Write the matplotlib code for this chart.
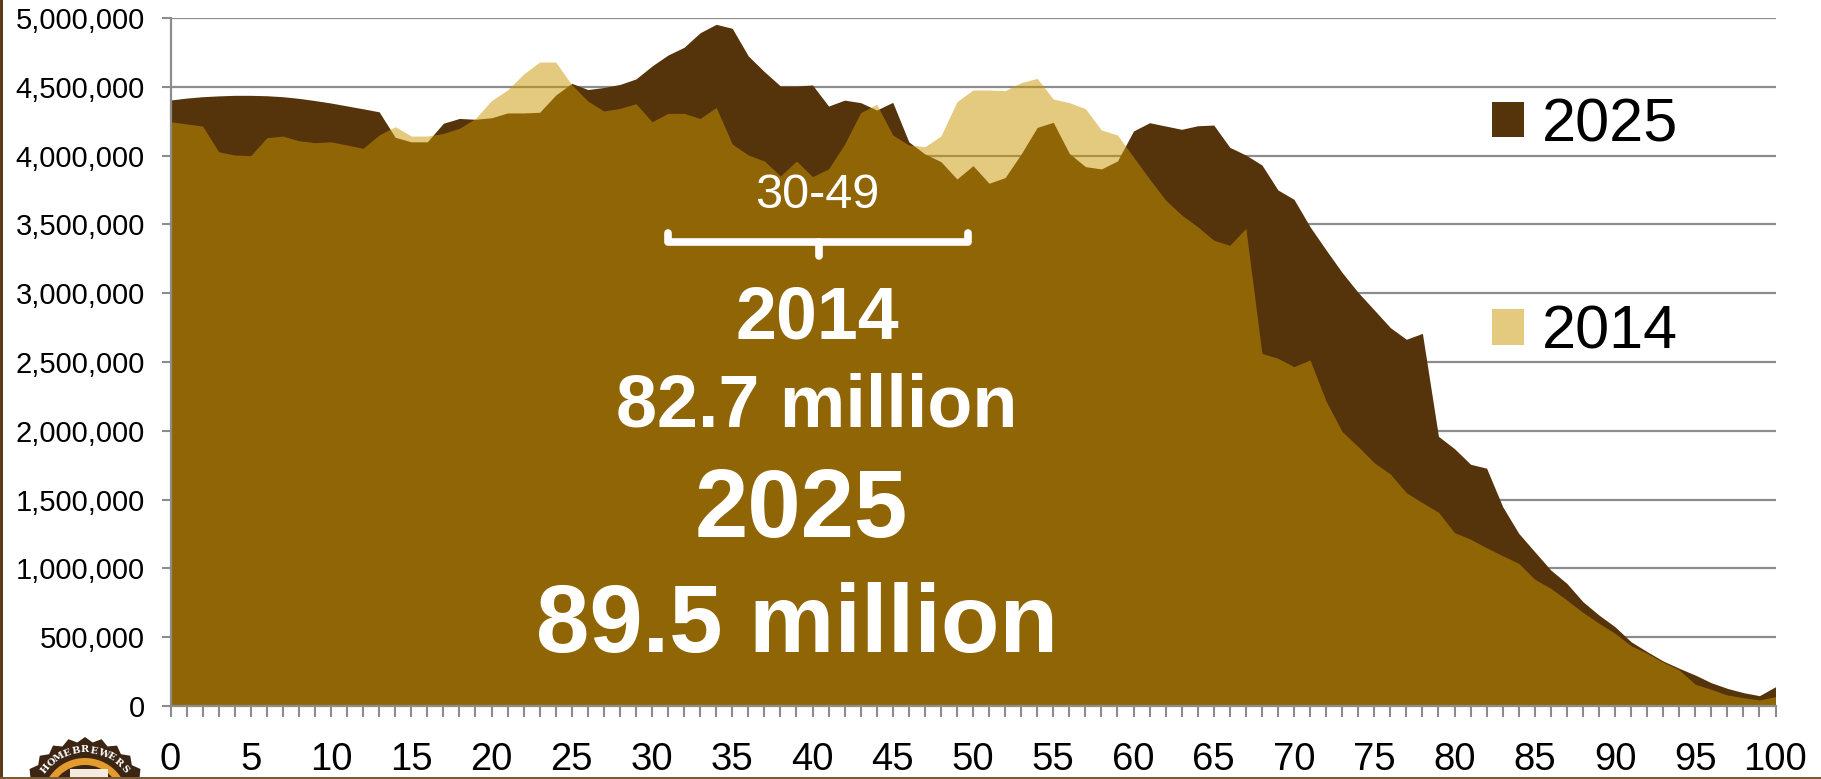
import numpy as np
import matplotlib
matplotlib.use("Agg")
import matplotlib.pyplot as plt
from matplotlib.ticker import FuncFormatter
from matplotlib.patches import Polygon, Circle, Rectangle

plt.rcParams['font.family'] = ['Liberation Sans', 'DejaVu Sans']

# population by single year of age, in millions
ages = np.arange(0, 101)
pop_2025 = [
    4.404, 4.418, 4.428, 4.434, 4.438, 4.438, 4.435, 4.428, 4.416, 4.400,
    4.382, 4.361, 4.340, 4.318, 4.133, 4.100, 4.100, 4.235, 4.270, 4.264,
    4.275, 4.310, 4.310, 4.315, 4.440, 4.525, 4.480, 4.495, 4.517, 4.557,
    4.651, 4.731, 4.787, 4.893, 4.954, 4.925, 4.724, 4.610, 4.506, 4.506,
    4.513, 4.360, 4.403, 4.385, 4.331, 4.387, 4.100, 4.012, 3.956, 3.830,
    3.927, 3.799, 3.840, 4.012, 4.205, 4.242, 4.016, 3.920, 3.903, 3.961,
    4.179, 4.239, 4.215, 4.191, 4.217, 4.222, 4.060, 4.004, 3.932, 3.750,
    3.682, 3.483, 3.314, 3.150, 3.005, 2.878, 2.750, 2.665, 2.708, 1.960,
    1.870, 1.757, 1.728, 1.449, 1.255, 1.121, 0.988, 0.891, 0.758, 0.661,
    0.576, 0.467, 0.395, 0.327, 0.274, 0.225, 0.169, 0.128, 0.097, 0.075,
    0.140,
]
pop_2014 = [
    4.246, 4.230, 4.215, 4.028, 4.004, 4.000, 4.130, 4.142, 4.108, 4.094,
    4.100, 4.077, 4.053, 4.150, 4.210, 4.142, 4.142, 4.161, 4.198, 4.270,
    4.400, 4.477, 4.593, 4.680, 4.680, 4.515, 4.397, 4.324, 4.343, 4.377,
    4.246, 4.307, 4.307, 4.270, 4.350, 4.084, 4.004, 3.961, 3.852, 3.961,
    3.847, 3.903, 4.084, 4.312, 4.373, 4.150, 4.077, 4.065, 4.142, 4.392,
    4.477, 4.477, 4.472, 4.530, 4.561, 4.411, 4.385, 4.341, 4.186, 4.150,
    3.990, 3.830, 3.677, 3.568, 3.483, 3.385, 3.348, 3.472, 2.563, 2.527,
    2.466, 2.515, 2.215, 1.994, 1.885, 1.768, 1.686, 1.550, 1.478, 1.408,
    1.260, 1.212, 1.150, 1.092, 1.037, 0.921, 0.855, 0.770, 0.681, 0.601,
    0.528, 0.438, 0.383, 0.318, 0.262, 0.158, 0.121, 0.080, 0.060, 0.044,
    0.068,
]
y_ticks = np.arange(0, 5_000_001, 500_000)
x_labels = np.arange(0, 101, 5)

DARK = '#55330B'
GOLD = '#CB9701'
GRID = '#8C8C8C'
W, H = 1821, 779

def fx(x):
    return x / W

def fy(y):
    return 1 - y / H

fig = plt.figure(figsize=(W / 100, H / 100), dpi=100)
fig.patch.set_facecolor('white')
ax = fig.add_axes([fx(170.5), fy(706), fx(1775.5) - fx(170.5), fy(18) - fy(706)])

ax.fill_between(ages, np.array(pop_2025) * 1e6, color=DARK, lw=0, label='2025')
ax.fill_between(ages, np.array(pop_2014) * 1e6, color=GOLD, alpha=0.5, lw=0, label='2014')

ax.set_xlim(0, 100)
ax.set_ylim(0, 5_000_000)
ax.set_yticks(y_ticks)
ax.yaxis.set_major_formatter(FuncFormatter(lambda v, _: f'{int(v):,}'))
ax.set_xticks(x_labels)
ax.set_xticks(ages, minor=True)
ax.tick_params(axis='x', which='both', direction='out', length=8, width=1.5, color=GRID)
ax.tick_params(axis='x', which='major', labelsize=27.5, pad=18)
ax.tick_params(axis='y', direction='out', length=6.5, width=1.5, color=GRID, labelsize=21, pad=12)
ax.grid(axis='y', color=GRID, lw=1.6)
ax.set_axisbelow(True)
for s in ('top', 'right'):
    ax.spines[s].set_visible(False)
for s in ('left', 'bottom'):
    ax.spines[s].set_color(GRID)
    ax.spines[s].set_linewidth(1.6)

ax.legend(loc='upper left', bbox_to_anchor=(fx(1492), fy(97)), bbox_transform=fig.transFigure,
          frameon=False, fontsize=44, handlelength=0.52, handleheight=0.52,
          handletextpad=0.3, labelspacing=2.47, borderpad=0, borderaxespad=0)

# bracket over the 30-49 age band
bk = dict(color='white', lw=5.5, solid_capstyle='round', solid_joinstyle='round')
ax.plot([31.0, 31.0, 49.7, 49.7], [3.437e6, 3.372e6, 3.372e6, 3.437e6], **bk)
ax.plot([40.4, 40.4], [3.372e6, 3.27e6], **bk)

fig.text(fx(817), fy(208), '30-49', color='white', fontsize=35, ha='center', va='baseline')
fig.text(fx(817), fy(338), '2014', color='white', fontsize=53, fontweight='bold', ha='center', va='baseline')
fig.text(fx(817), fy(427), '82.7 million', color='white', fontsize=53, fontweight='bold', ha='center', va='baseline')
fig.text(fx(801), fy(537), '2025', color='white', fontsize=69, fontweight='bold', ha='center', va='baseline')
fig.text(fx(797), fy(652), '89.5 million', color='white', fontsize=69, fontweight='bold', ha='center', va='baseline')

# bottle-cap logo in the lower left corner
lax = fig.add_axes([0, 0, fx(180), 46 / H])
lax.set_xlim(0, 180)
lax.set_ylim(0, 46)
lax.axis('off')
cx, cy = 85, -22
n = 24
th = np.linspace(0, 2 * np.pi, 2 * n, endpoint=False)
rr = np.where(np.arange(2 * n) % 2 == 0, 64, 59)
lax.add_patch(Polygon(np.c_[cx + rr * np.cos(th), cy + rr * np.sin(th)], closed=True,
                      facecolor='#3D2513', edgecolor='none'))
lax.add_patch(Circle((cx, cy), 43, facecolor='#E29B2C', edgecolor='none'))
lax.add_patch(Circle((cx, cy), 36, facecolor='#3D2513', edgecolor='none'))
lax.add_patch(Rectangle((70, 0), 38, 10, facecolor='#F4EBDD', edgecolor='none'))
word = 'HOMEBREWERS'
for i, ch in enumerate(word):
    a = np.deg2rad(141 - i * (141 - 39) / (len(word) - 1))
    lax.text(cx + 51 * np.cos(a), cy + 51 * np.sin(a), ch, color='white', fontsize=7,
             fontweight='bold', family='DejaVu Serif', ha='center', va='center',
             rotation=np.rad2deg(a) - 90)

# slide edge
fig.add_artist(Rectangle((0, 0), fx(3), 1, transform=fig.transFigure, facecolor='#5B3A1C', edgecolor='none'))
fig.add_artist(Rectangle((0, 0), 1, 2 / H, transform=fig.transFigure, facecolor='#7A5A38', edgecolor='none'))

fig.savefig('out.png', dpi=100)
